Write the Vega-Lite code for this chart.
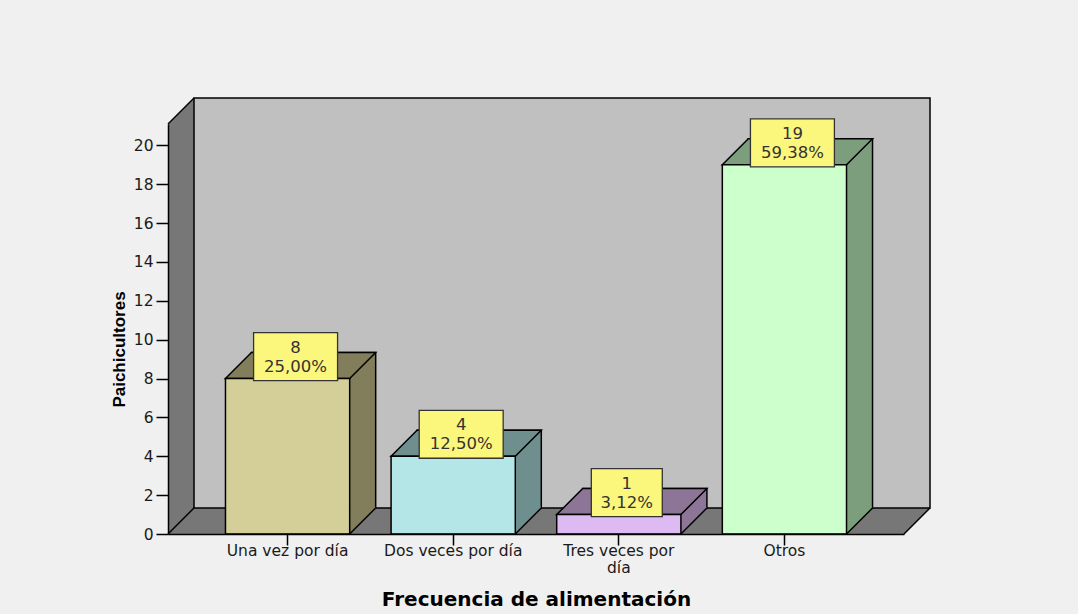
{
  "$schema": "https://vega.github.io/schema/vega-lite/v6.json",
  "width": 736,
  "height": 410,
  "autosize": {"type": "none"},
  "padding": {"left": 168, "top": 124, "right": 174, "bottom": 80},
  "background": "#f0f0f0",
  "config": {"view": {"stroke": null}},
  "datasets": {
    "frecuencia": [
      {"frecuencia": "Una vez por día", "paichicultores": 8, "porcentaje": "25,00%"},
      {"frecuencia": "Dos veces por día", "paichicultores": 4, "porcentaje": "12,50%"},
      {"frecuencia": "Tres veces por día", "paichicultores": 1, "porcentaje": "3,12%"},
      {"frecuencia": "Otros", "paichicultores": 19, "porcentaje": "59,38%"}
    ],
    "marco": [{"pieza": "caja"}]
  },
  "data": {"name": "frecuencia"},
  "layer": [
    {
      "data": {"name": "marco"},
      "mark": {"type": "rect", "fill": "#777777", "x2Offset": 26, "yOffset": -26},
      "encoding": {"x": {"value": 0}, "x2": {"value": "width"}, "y": {"value": 0}, "y2": {"value": "height"}}
    },
    {
      "data": {"name": "marco"},
      "mark": {"type": "point", "shape": "M0,0 L0,-1 L1,-1 Z", "size": 2704, "filled": true, "fill": "#f0f0f0", "opacity": 1, "strokeWidth": 0},
      "encoding": {"x": {"value": 0}, "y": {"value": 0}}
    },
    {
      "data": {"name": "marco"},
      "mark": {"type": "point", "shape": "M0,0 L1,0 L1,-1 Z", "size": 2704, "filled": true, "fill": "#f0f0f0", "opacity": 1, "strokeWidth": 0},
      "encoding": {"x": {"value": "width"}, "y": {"value": "height"}}
    },
    {
      "data": {"name": "marco"},
      "mark": {"type": "rect", "fill": "#c0c0c0", "stroke": "#000000", "strokeWidth": 1.5, "xOffset": 26, "x2Offset": 26, "yOffset": -26, "y2Offset": -26},
      "encoding": {"x": {"value": 0}, "x2": {"value": "width"}, "y": {"value": 0}, "y2": {"value": "height"}}
    },
    {
      "data": {"name": "marco"},
      "mark": {"type": "point", "shape": "M0,0 L1,-1", "size": 2704, "filled": false, "stroke": "#000000", "strokeWidth": 1.5, "opacity": 1},
      "encoding": {"x": {"value": 0}, "y": {"value": 0}}
    },
    {
      "data": {"name": "marco"},
      "mark": {"type": "point", "shape": "M0,0 L1,-1", "size": 2704, "filled": false, "stroke": "#000000", "strokeWidth": 1.5, "opacity": 1},
      "encoding": {"x": {"value": 0}, "y": {"value": "height"}}
    },
    {
      "data": {"name": "marco"},
      "mark": {"type": "point", "shape": "M0,0 L1,-1", "size": 2704, "filled": false, "stroke": "#000000", "strokeWidth": 1.5, "opacity": 1},
      "encoding": {"x": {"value": "width"}, "y": {"value": "height"}}
    },
    {
      "mark": {"type": "bar", "xOffset": 26, "yOffset": -26, "y2Offset": -26, "stroke": "#000000", "strokeWidth": 1.5},
      "encoding": {
        "x": {"field": "frecuencia", "type": "nominal", "sort": null, "title": "Frecuencia de alimentación", "scale": {"type": "band", "paddingInner": 0.25, "paddingOuter": 0.347}},
        "y": {"field": "paichicultores", "type": "quantitative", "title": "Paichicultores", "scale": {"domain": [0, 21.1], "nice": false}},
        "y2": {"datum": 0},
        "fill": {"field": "frecuencia", "type": "nominal", "legend": null,
          "scale": {"domain": ["Una vez por día", "Dos veces por día", "Tres veces por día", "Otros"], "range": ["#827d5b", "#6f8f8f", "#8c7596", "#7d9e7d"]}}
      }
    },
    {
      "mark": {"type": "point", "shape": "M0,0 L1,-1 L0.96,-1.06 L0,-1.06 Z", "size": 2704, "filled": true, "opacity": 1, "strokeWidth": 0},
      "encoding": {
        "x": {"field": "frecuencia", "type": "nominal", "sort": null, "bandPosition": 1, "title": "Frecuencia de alimentación", "scale": {"type": "band", "paddingInner": 0.25, "paddingOuter": 0.347}},
        "y": {"datum": 0, "type": "quantitative", "title": "Paichicultores"},
        "fill": {"field": "frecuencia", "type": "nominal", "legend": null,
          "scale": {"domain": ["Una vez por día", "Dos veces por día", "Tres veces por día", "Otros"], "range": ["#827d5b", "#6f8f8f", "#8c7596", "#7d9e7d"]}}
      }
    },
    {
      "mark": {"type": "point", "shape": "M0,0 L4.777,0 L5.777,-1 L1,-1 Z", "size": 2704, "filled": true, "opacity": 1, "stroke": "#000000", "strokeWidth": 1.5},
      "encoding": {
        "x": {"field": "frecuencia", "type": "nominal", "sort": null, "bandPosition": 0, "title": "Frecuencia de alimentación", "scale": {"type": "band", "paddingInner": 0.25, "paddingOuter": 0.347}},
        "y": {"field": "paichicultores", "type": "quantitative", "title": "Paichicultores"},
        "fill": {"field": "frecuencia", "type": "nominal", "legend": null,
          "scale": {"domain": ["Una vez por día", "Dos veces por día", "Tres veces por día", "Otros"], "range": ["#827d5b", "#6f8f8f", "#8c7596", "#7d9e7d"]}}
      }
    },
    {
      "mark": {"type": "point", "shape": "M0,0 L1,-1", "size": 2704, "filled": false, "stroke": "#000000", "strokeWidth": 1.5, "opacity": 1},
      "encoding": {
        "x": {"field": "frecuencia", "type": "nominal", "sort": null, "bandPosition": 1, "title": "Frecuencia de alimentación", "scale": {"type": "band", "paddingInner": 0.25, "paddingOuter": 0.347}},
        "y": {"datum": 0, "type": "quantitative", "title": "Paichicultores"}
      }
    },
    {
      "mark": {"type": "bar", "stroke": "#000000", "strokeWidth": 1.5},
      "encoding": {
        "x": {"field": "frecuencia", "type": "nominal", "sort": null, "title": "Frecuencia de alimentación",
          "scale": {"type": "band", "paddingInner": 0.25, "paddingOuter": 0.347},
          "axis": {"zindex": 1, "domainColor": "#000000", "domainWidth": 1.5, "tickColor": "#000000", "tickWidth": 1.5, "tickSize": 11,
            "labelAngle": 0, "labelAlign": "center", "labelFont": "DejaVu Sans", "labelFontSize": 15.5, "labelColor": "#1a1a1a", "labelPadding": 5, "labelLineHeight": 17,
            "labelOverlap": false, "labelLimit": 300,
            "labelExpr": "datum.label == 'Tres veces por día' ? ['Tres veces por', 'día'] : datum.label",
            "titleFont": "DejaVu Sans", "titleFontSize": 20, "titleFontWeight": "bold", "titleColor": "#000000", "titleBaseline": "alphabetic", "titleY": 71}},
        "y": {"field": "paichicultores", "type": "quantitative", "title": "Paichicultores",
          "scale": {"domain": [0, 21.1], "nice": false},
          "axis": {"values": [0, 2, 4, 6, 8, 10, 12, 14, 16, 18, 20], "zindex": 1, "grid": false, "domainColor": "#000000", "domainWidth": 1.5,
            "tickColor": "#000000", "tickWidth": 1.5, "tickSize": 12, "labelPadding": 3, "labelFont": "DejaVu Sans", "labelFontSize": 15.5,
            "labelColor": "#1a1a1a", "labelOverlap": false, "labelFlush": false,
            "titleFont": "Liberation Sans", "titleFontSize": 17, "titleFontWeight": "bold", "titleColor": "#000000",
            "titleAngle": 270, "titleAlign": "center", "titleBaseline": "alphabetic", "titleX": -44, "titleY": 225}},
        "y2": {"datum": 0},
        "fill": {"field": "frecuencia", "type": "nominal", "legend": null,
          "scale": {"domain": ["Una vez por día", "Dos veces por día", "Tres veces por día", "Otros"], "range": ["#d4cf98", "#b4e5e7", "#debaf2", "#ccffcc"]}}
      }
    },
    {
      "mark": {"type": "point", "size": 2704, "filled": true, "fill": "#fbf67c", "opacity": 1, "stroke": "#333333", "strokeWidth": 1.3, "xOffset": 8, "yOffset": -22},
      "encoding": {
        "x": {"field": "frecuencia", "type": "nominal", "sort": null, "title": "Frecuencia de alimentación", "scale": {"type": "band", "paddingInner": 0.25, "paddingOuter": 0.347}},
        "y": {"field": "paichicultores", "type": "quantitative", "title": "Paichicultores"},
        "shape": {"condition": {"test": "length(datum.porcentaje) < 6", "value": "M-1.365,-0.923 H1.365 V0.923 H-1.365 Z"}, "value": "M-1.615,-0.923 H1.615 V0.923 H-1.615 Z"}
      }
    },
    {
      "mark": {"type": "text", "font": "DejaVu Sans", "fontSize": 16.5, "fill": "#333333", "baseline": "middle", "align": "center", "dx": 8, "dy": -31},
      "encoding": {
        "x": {"field": "frecuencia", "type": "nominal", "sort": null, "title": "Frecuencia de alimentación", "scale": {"type": "band", "paddingInner": 0.25, "paddingOuter": 0.347}},
        "y": {"field": "paichicultores", "type": "quantitative", "title": "Paichicultores"},
        "text": {"field": "paichicultores", "type": "quantitative"}
      }
    },
    {
      "mark": {"type": "text", "font": "DejaVu Sans", "fontSize": 16.5, "fill": "#333333", "baseline": "middle", "align": "center", "dx": 8, "dy": -12},
      "encoding": {
        "x": {"field": "frecuencia", "type": "nominal", "sort": null, "title": "Frecuencia de alimentación", "scale": {"type": "band", "paddingInner": 0.25, "paddingOuter": 0.347}},
        "y": {"field": "paichicultores", "type": "quantitative", "title": "Paichicultores"},
        "text": {"field": "porcentaje", "type": "nominal"}
      }
    }
  ],
  "resolve": {"scale": {"fill": "independent"}}
}
